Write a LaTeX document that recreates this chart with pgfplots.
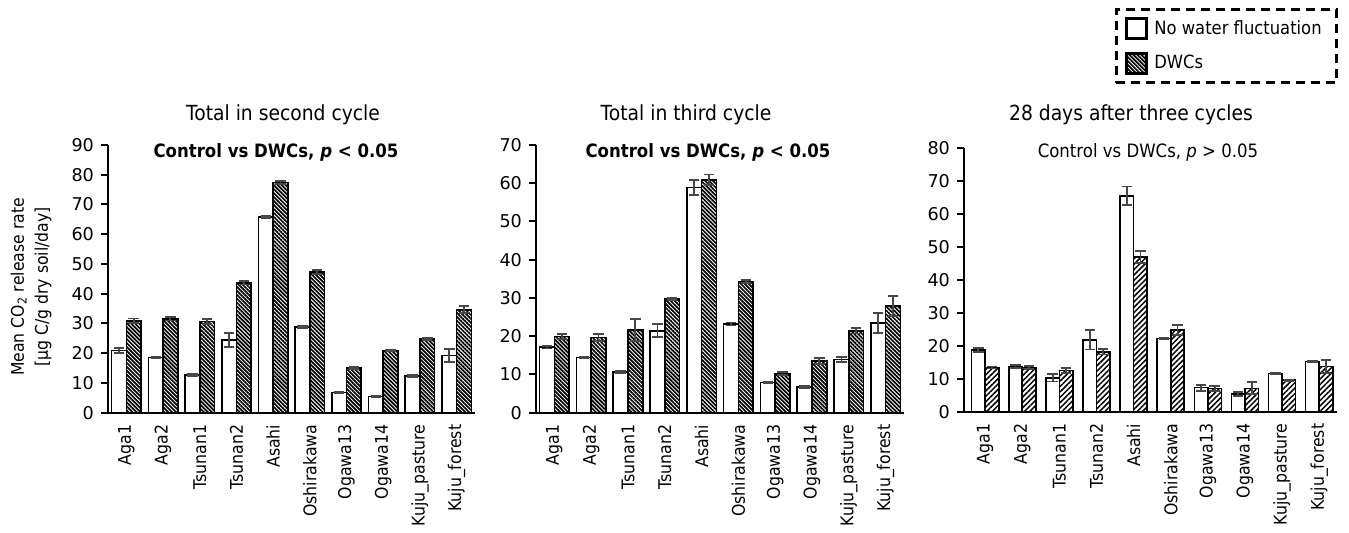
\documentclass[border=0pt]{standalone}
\usepackage{fontspec}
\setmainfont{DejaVu Sans}
\newfontfamily\narrowfont{DejaVu Sans}[FakeStretch=0.9]
\usepackage{pgfplots}
\usepackage{pgfplotstable}
\pgfplotsset{compat=1.18}
\usetikzlibrary{patterns.meta}

% idx, control mean, control SE, DWCs mean, DWCs SE
\pgfplotstableread{
idx ctrl ctrlerr dwc dwcerr
0 20.9 0.8 30.9 0.8
1 18.5 0.3 31.6 0.6
2 12.6 0.3 30.7 0.8
3 24.4 2.3 43.7 0.6
4 65.7 0.3 77.4 0.6
5 28.8 0.3 47.3 0.8
6 6.8 0.2 15.1 0.3
7 5.4 0.3 20.9 0.3
8 12.3 0.3 24.8 0.3
9 19.2 2.2 34.6 1.2
}\secondcycle

\pgfplotstableread{
idx ctrl ctrlerr dwc dwcerr
0 17.1 0.3 19.9 0.6
1 14.4 0.2 19.7 0.9
2 10.6 0.3 21.6 2.8
3 21.4 1.7 29.7 0.3
4 58.9 2.0 60.9 1.4
5 23.2 0.4 34.3 0.3
6 7.9 0.2 10.2 0.4
7 6.7 0.3 13.5 0.8
8 13.9 0.7 21.4 0.7
9 23.4 2.6 27.9 2.7
}\thirdcycle

\pgfplotstableread{
idx ctrl ctrlerr dwc dwcerr
0 18.7 0.6 13.4 0.3
1 13.7 0.4 13.4 0.5
2 10.3 1.1 12.5 0.8
3 21.8 2.9 18.2 0.8
4 65.6 2.8 47.0 1.9
5 22.2 0.3 24.8 1.5
6 7.3 0.9 7.1 0.8
7 5.4 0.7 7.1 1.8
8 11.6 0.2 9.6 0.2
9 15.3 0.2 13.7 2.0
}\afterdays

\tikzset{
  densehatch/.style={pattern={Lines[angle=-45, distance=1.4pt, line width=0.85pt]}},
  widehatch/.style={pattern={Lines[angle=45, distance=1.9pt, line width=0.75pt]}},
}

\pgfplotsset{
  panel/.style={
    scale only axis, anchor=south west,
    axis lines=left, axis line style={-, line width=1pt},
    xmin=-0.5, xmax=9.5, ymin=0,
    xtick={0,...,9},
    xticklabels={Aga1,Aga2,Tsunan1,Tsunan2,Asahi,Oshirakawa,Ogawa13,Ogawa14,Kuju\_pasture,Kuju\_forest},
    x tick label style={rotate=90, anchor=east, xshift=1pt, font=\narrowfont\fontsize{8.75}{10}\selectfont},
    major x tick style={draw=none},
    y tick label style={font=\fontsize{8.8}{10}\selectfont},
    tick align=outside, major tick length=3.5pt,
    ytick style={line width=1pt, black},
    /pgf/number format/assume math mode=true,
    clip=false,
  },
  errs/.style={
    /pgfplots/error bars/y dir=both,
    /pgfplots/error bars/y explicit,
    /pgfplots/error bars/error bar style={line width=0.9pt, black!72},
    /pgfplots/error bars/error mark options={rotate=90, mark size=2.6pt, line width=0.9pt, black!72}},
  % bars are placed at their own x (category index +/- half a bar width)
  ctrlbar/.style={ybar, bar width=#1, bar shift=0pt, draw=black, line width=0.8pt, fill=white, errs},
  dwcbar/.style 2 args={ybar, bar width=#1, bar shift=0pt, draw=black, line width=0.8pt, #2, errs},
}

\begin{document}
\begin{tikzpicture}
\useasboundingbox (0,0) rectangle (674.5pt,266.5pt);

% Y-axis label shared by the row
\node[rotate=90, align=center, font=\narrowfont\fontsize{8.7}{12}\selectfont] at (15.5pt,123pt)
  {Mean CO\textsubscript{2} release rate\\{[}µg C/g dry soil/day{]}};

% Panel titles
\begin{scope}[font=\narrowfont\fontsize{10.4}{12}\selectfont]
\node at (141.5pt,209pt) {Total in second cycle};
\node at (343pt,209pt) {Total in third cycle};
\node at (565.5pt,209pt) {28 days after three cycles};
\end{scope}
\begin{scope}[font=\narrowfont\fontsize{9.2}{11}\selectfont]
\node at (138pt,190.5pt) {\bfseries Control vs DWCs, \textit{p} < 0.05};
\node at (354pt,190.5pt) {\bfseries Control vs DWCs, \textit{p} < 0.05};
\node at (574pt,190.5pt) {Control vs DWCs, \textit{p} > 0.05};
\end{scope}

\begin{axis}[panel, at={(54pt,60.15pt)}, width=183.5pt, height=133.85pt,
  ymax=90, ytick={0,10,...,90}]
\addplot[ctrlbar=0.4] table[x expr=\thisrow{idx}-0.2, y=ctrl, y error=ctrlerr] {\secondcycle};
\addplot[dwcbar={0.4}{densehatch}] table[x expr=\thisrow{idx}+0.2, y=dwc, y error=dwcerr] {\secondcycle};
\end{axis}

\begin{axis}[panel, at={(268pt,60.15pt)}, width=184pt, height=133.85pt,
  ymax=70, ytick={0,10,...,70}]
\addplot[ctrlbar=0.4] table[x expr=\thisrow{idx}-0.2, y=ctrl, y error=ctrlerr] {\thirdcycle};
\addplot[dwcbar={0.4}{densehatch}] table[x expr=\thisrow{idx}+0.2, y=dwc, y error=dwcerr] {\thirdcycle};
\end{axis}

\begin{axis}[panel, at={(482pt,60.65pt)}, width=186.5pt, height=131.7pt,
  xmin=-0.57, xmax=9.48, ymax=80, ytick={0,10,...,80},
  legend style={at={(1.003,1.533)}, anchor=north east, draw=black,
    line width=1.5pt, dash pattern=on 4.5pt off 3pt,
    font=\narrowfont\fontsize{9.1}{10}\selectfont,
    inner xsep=4.5pt, inner ysep=3.5pt, row sep=5pt,
    nodes={inner xsep=3pt},
    legend cell align=left},
  legend entries={No water fluctuation, DWCs}]
\addlegendimage{legend image code/.code={\draw[solid, line width=1.5pt, fill=white] (0pt,-5pt) rectangle (10pt,5pt);}}
\addlegendimage{legend image code/.code={\draw[solid, line width=1.5pt, densehatch] (0pt,-5pt) rectangle (10pt,5pt);}}
\addplot[forget plot, ctrlbar=0.365] table[x expr=\thisrow{idx}-0.1825, y=ctrl, y error=ctrlerr] {\afterdays};
\addplot[forget plot, dwcbar={0.365}{widehatch}] table[x expr=\thisrow{idx}+0.1825, y=dwc, y error=dwcerr] {\afterdays};
\end{axis}
\end{tikzpicture}
\end{document}
